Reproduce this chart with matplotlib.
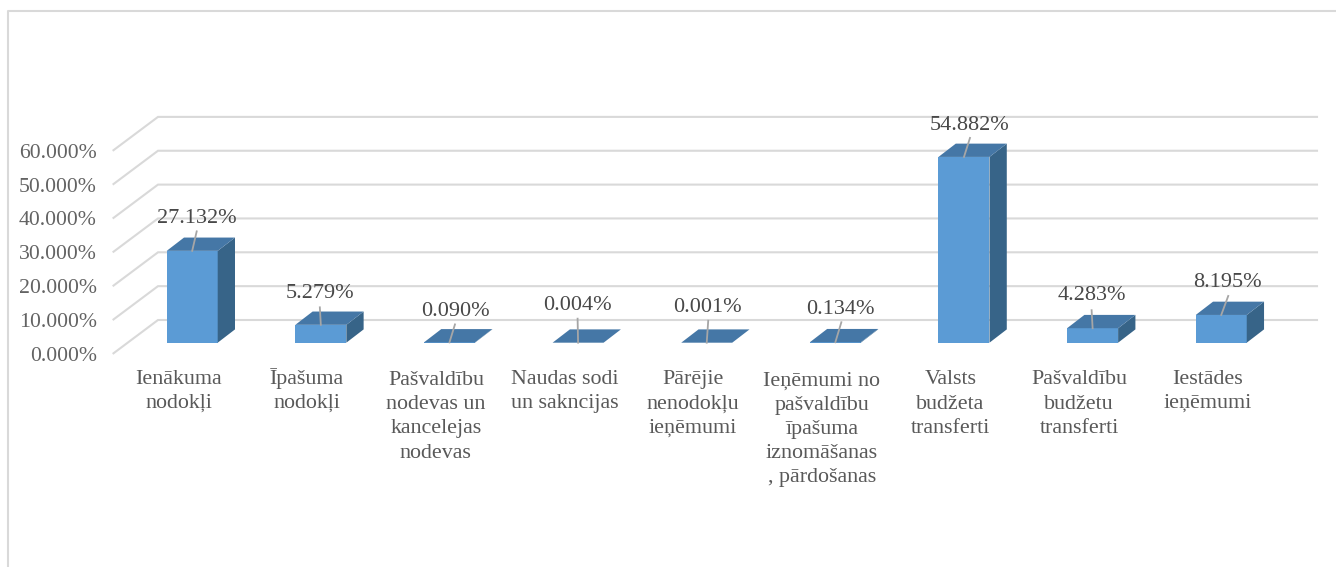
import matplotlib.pyplot as plt
from matplotlib.patches import Polygon

plt.rcParams['font.family'] = ['Liberation Serif', 'DejaVu Serif']

categories = [
    'Ienākuma\nnodokļi',
    'Īpašuma\nnodokļi',
    'Pašvaldību\nnodevas un\nkancelejas\nnodevas',
    'Naudas sodi\nun sakncijas',
    'Pārējie\nnenodokļu\nieņēmumi',
    'Ieņēmumi no\npašvaldību\nīpašuma\niznomāšanas\n, pārdošanas',
    'Valsts\nbudžeta\ntransferti',
    'Pašvaldību\nbudžetu\ntransferti',
    'Iestādes\nieņēmumi',
]
values = [27.132, 5.279, 0.090, 0.004, 0.001, 0.134, 54.882, 4.283, 8.195]
y_ticks = [0, 10, 20, 30, 40, 50, 60]

# pixel scale of the picture, everything below is drawn in data units
W, H = 1336, 567
PX_CAT = 128.63
PX_PCT = 3.385
X0 = 192.2
Y0 = 342.7
LINE_STEP = 24.7


def dx(px):
    return px / PX_CAT


def dy(px):
    return px / PX_PCT


# leader line end and label centre, pixels from the top centre of the bar
leader_ends = [(4.5, 19.5), (-1, 17.5), (5.5, 18), (-0.5, 24), (1.5, 22), (6, 20), (6, 19), (-1, 18), (7, 19)]
label_pos = [(4.3, 32), (-0.5, 31), (6, 31), (-0.5, 37), (1, 35.3), (5.5, 32.5), (6, 31), (-0.5, 33), (6.5, 32)]

bar_w = dx(51)
depth_x = dx(17.3)
depth_y = dy(13.3)
grey = '#d9d9d9'
front_col = '#5b9bd5'
top_col = '#4577a6'
side_col = '#376488'

fig = plt.figure(figsize=(W / 100, H / 100), dpi=100)
ax = fig.add_axes([0, 0, 1, 1])
ax.set_xlim(-X0 / PX_CAT, (W - X0) / PX_CAT)
ax.set_ylim((Y0 - H) / PX_PCT, Y0 / PX_PCT)
ax.axis('off')

# chart frame, open on the right and at the bottom
ax.plot([dx(8 - X0), dx(8 - X0), dx(W - X0)], [dy(Y0 - H), dy(Y0 - 11), dy(Y0 - 11)], color=grey, lw=1.5, zorder=1)

# back wall grid and the floor lines running to the front
for t in y_ticks:
    y_back = t + dy(Y0 - 320)
    y_front = t + dy(Y0 - 353.3)
    ax.plot([dx(113.5 - X0), dx(158 - X0), dx(1317 - X0)], [y_front, y_back, y_back],
            color=grey, lw=1.5, zorder=1, solid_joinstyle='miter')
    ax.text(dx(96.7 - X0), t + dy(Y0 - 356.3), '%.3f%%' % t, ha='right', va='center',
            fontsize=15.7, color='#636363', zorder=5)

# the three faces of each bar
ax.bar(range(len(values)), values, width=bar_w, color=front_col, zorder=3)
for i, v in enumerate(values):
    l = i - bar_w / 2
    r = i + bar_w / 2
    ax.add_patch(Polygon([(r, 0), (r + depth_x, depth_y), (r + depth_x, v + depth_y), (r, v)],
                         facecolor=side_col, edgecolor='none', zorder=3))
    ax.add_patch(Polygon([(l, v), (r, v), (r + depth_x, v + depth_y), (l + depth_x, v + depth_y)],
                         facecolor=top_col, edgecolor='none', zorder=3))

    ax.plot([i, i + dx(leader_ends[i][0])], [v, v + dy(leader_ends[i][1])], color='#a6a6a6', lw=1.3, zorder=4)
    ax.text(i + dx(label_pos[i][0]), v + dy(label_pos[i][1]), '%.3f%%' % v, ha='center', va='center',
            fontsize=16, color='#484848', zorder=5)

    # va baseline sits on the last line, so step down by the line count
    n_lines = categories[i].count('\n')
    ax.text(i + dx(-13.6), dy(Y0 - 383.4 - n_lines * LINE_STEP), categories[i], ha='center', va='baseline',
            multialignment='center', fontsize=15.8, color='#595959', linespacing=1.37, zorder=5)

fig.savefig('out.png', dpi=100, facecolor='white')
